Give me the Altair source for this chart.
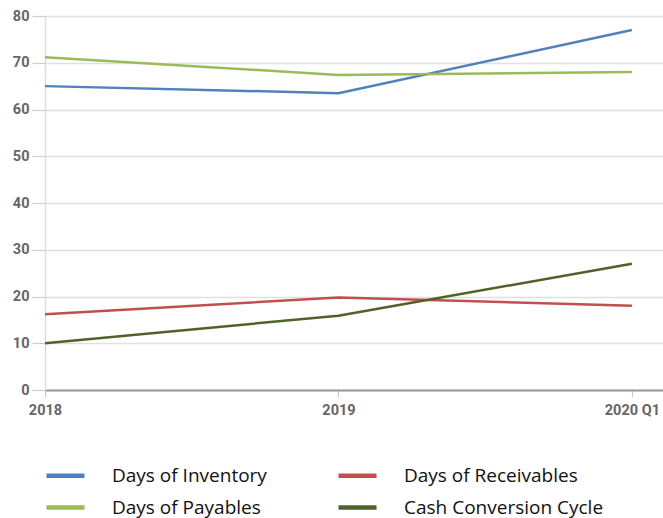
import altair as alt
import pandas as pd

periods = ["2018", "2019", "2020 Q1"]
period_idx = [0, 1, 2]
series_names = ["Days of Inventory", "Days of Payables", "Days of Receivables", "Cash Conversion Cycle"]
days_inventory = [65.0, 63.5, 77.0]
days_payables = [71.2, 67.4, 68.0]
days_receivables = [16.2, 19.8, 18.0]
cash_conversion = [10.0, 15.9, 27.0]
colors = ["#4f81bd", "#9bbb59", "#c0504d", "#4f6228"]

rows = []
for name, vals in zip(series_names, [days_inventory, days_payables, days_receivables, cash_conversion]):
    for i, p, v in zip(period_idx, periods, vals):
        rows.append({"series": name, "idx": i, "period": p, "value": v})
df = pd.DataFrame(rows)

label_expr = "datum.value == 0 ? '2018' : datum.value == 1 ? '2019' : datum.value == 2 ? '2020 Q1' : ''"

chart = alt.Chart(df).mark_line(strokeWidth=2.5).encode(
    x=alt.X("idx:Q",
            scale=alt.Scale(domain=[0, 2.106], nice=False, zero=False),
            axis=alt.Axis(values=[0, 1, 2], labelExpr=label_expr, title=None, grid=False,
                          domainColor="#9a9a9a", domainWidth=1.8,
                          tickColor="#cccccc", tickSize=7, tickWidth=1.2,
                          labelFont="Liberation Sans Narrow, Roboto", labelFontWeight="bold",
                          labelFontSize=14.5, labelColor="#666666", labelPadding=6,
                          labelFlush=False)),
    y=alt.Y("value:Q",
            scale=alt.Scale(domain=[0, 80], nice=False),
            axis=alt.Axis(values=[0, 10, 20, 30, 40, 50, 60, 70, 80], title=None,
                          gridColor="#e0e0e0", gridWidth=1.5,
                          domainColor="#dddddd", domainWidth=1.5,
                          tickColor="#cccccc", tickSize=13, tickWidth=1.2,
                          labelFont="Liberation Sans Narrow, Roboto", labelFontWeight="bold",
                          labelFontSize=14.5, labelColor="#666666", labelPadding=3)),
    color=alt.Color("series:N",
                    scale=alt.Scale(domain=series_names, range=colors),
                    legend=alt.Legend(title=None, orient="none", legendX=-1, legendY=438,
                                      columns=2, direction="vertical",
                                      symbolType="stroke", symbolSize=1444,
                                      symbolStrokeWidth=4.5, labelOffset=25,
                                      labelFont="Open Sans", labelFontSize=19,
                                      labelColor="#111111", columnPadding=62,
                                      rowPadding=-13, labelLimit=400)),
    order="idx:Q",
).properties(
    width=618, height=374,
    autosize=alt.AutoSizeParams(type="none"),
    padding={"left": 45, "top": 16, "right": 0, "bottom": 128},
).configure_view(stroke=None).configure(background="white")

chart.save("out.html", embed_options={"renderer": "svg", "actions": False})
